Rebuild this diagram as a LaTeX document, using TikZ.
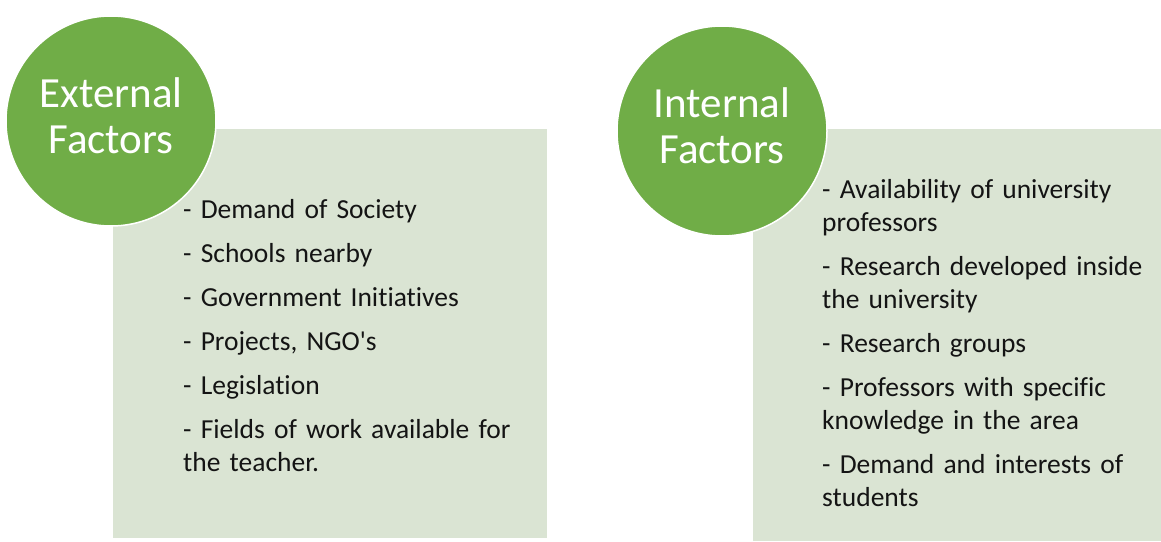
\documentclass[tikz,border=0pt]{standalone}
\usepackage{fontspec}
\setmainfont{Carlito}[Ligatures=NoCommon]
\usepackage{tikz}
\usetikzlibrary{positioning}
\definecolor{green}{RGB}{112,173,71}
\definecolor{color-box}{RGB}{218,228,211}
\definecolor{color-text}{RGB}{20,20,20}

\begin{document}
\begin{tikzpicture}[x=1pt, y=-1pt,
  factor/.style={circle, fill=green, draw=white, line width=1.5pt, minimum size=210pt, inner sep=0pt},
  title/.style={text=white, align=center, inner sep=0pt, yshift=5pt, font=\fontsize{43}{46}\selectfont},
  panel/.style={rectangle, fill=color-box, draw=none, anchor=north west, inner sep=0pt},
  itemlist/.style={anchor=north west, inner sep=0pt, align=left, text width=#1, text=color-text,
    font=\fontsize{27.5}{33}\selectfont,
    execute at begin node={\setlength{\parskip}{11pt}\hyphenpenalty=10000}}]
\useasboundingbox (0,0) rectangle (1161,541);

% external factors
\node [panel, minimum width=434pt, minimum height=409pt] (extbox) at (113,129) {};
\node [factor] (ext) at (111,121) {};
\node [title] (exttitle) at (ext.center) {External\\Factors};
\node [itemlist=340pt] (extlist) at (183,199) {- Demand of Society\par
  - Schools nearby\par
  - Government Initiatives\par
  - Projects, NGO\textquotesingle s\par
  - Legislation\par
  - Fields of work available for the teacher.};

% internal factors
\node [panel, minimum width=408pt, minimum height=412pt] (intbox) at (753,129) {};
\node [factor] (int) at (722,131) {};
\node [title] (inttitle) at (int.center) {Internal\\Factors};
\node [itemlist=336pt] (intlist) at (822,179) {- Availability of university professors\par
  - Research developed inside the university\par
  - Research groups\par
  - Professors with specific knowledge in the area\par
  - Demand and interests of students};

\end{tikzpicture}
\end{document}
